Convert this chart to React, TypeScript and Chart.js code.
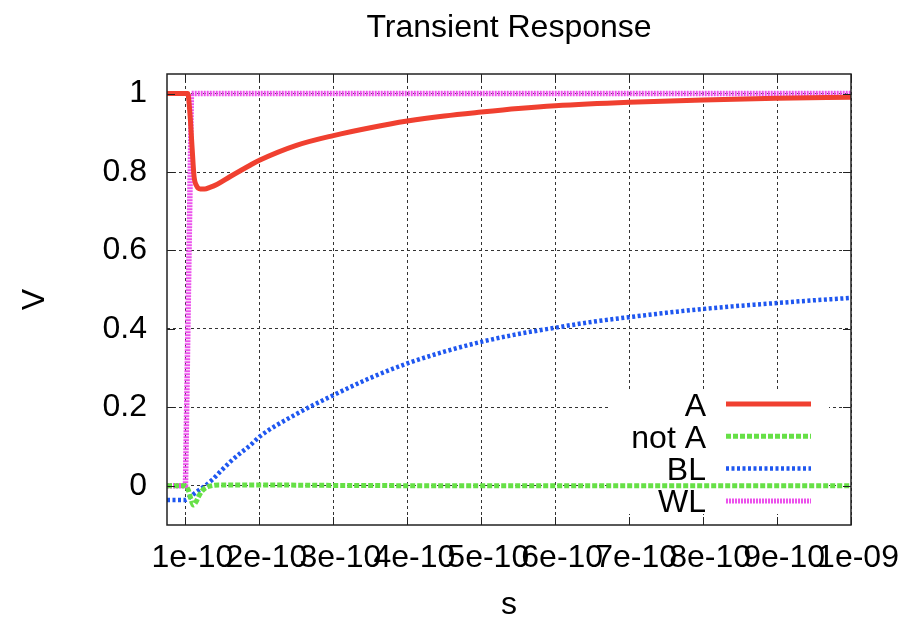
import { useEffect, useRef } from 'react';
import { Chart, registerables } from 'chart.js';

Chart.register(...registerables);

// ---- text ----
const TITLE = 'Transient Response';
const X_TITLE = 's';
const Y_TITLE = 'V';
const FONT = "'Liberation Sans', Arial, Helvetica, sans-serif";

// ---- axes ----
const X_MIN = 0.75e-10;
const X_MAX = 1e-9;
const Y_MIN = -0.1;
const Y_MAX = 1.05;
const X_TICKS = [1e-10, 2e-10, 3e-10, 4e-10, 5e-10, 6e-10, 7e-10, 8e-10, 9e-10, 1e-9];
const X_TICK_LABELS = ['1e-10', '2e-10', '3e-10', '4e-10', '5e-10', '6e-10', '7e-10', '8e-10', '9e-10', '1e-09'];
const Y_TICKS = [0, 0.2, 0.4, 0.6, 0.8, 1];
const Y_TICK_LABELS = ['0', '0.2', '0.4', '0.6', '0.8', '1'];

// ---- series (time in seconds, value in volts) ----
const SERIES_NAMES = ['A', 'not A', 'BL', 'WL'];

const A_T = [0.75e-10, 1.0e-10, 1.03e-10, 1.06e-10, 1.09e-10, 1.115e-10, 1.15e-10, 1.2e-10, 1.26e-10, 1.33e-10,
  1.43e-10, 1.6e-10, 1.88e-10, 2.0e-10, 2.5e-10, 3.0e-10, 3.5e-10, 4.0e-10, 4.5e-10, 5.0e-10, 5.5e-10, 6.0e-10,
  7.0e-10, 8.0e-10, 9.0e-10, 10.0e-10];
const A_V = [1, 1, 1, 0.95, 0.86, 0.79, 0.765, 0.757, 0.757, 0.761,
  0.769, 0.788, 0.818, 0.83, 0.868, 0.893, 0.913, 0.93, 0.943, 0.953, 0.962, 0.969,
  0.978, 0.984, 0.988, 0.991];

const NOTA_T = [0.75e-10, 1.0e-10, 1.04e-10, 1.075e-10, 1.105e-10, 1.14e-10, 1.175e-10, 1.22e-10, 1.265e-10,
  1.33e-10, 1.45e-10, 2.0e-10, 3.0e-10, 5.0e-10, 10.0e-10];
const NOTA_V = [0, 0, -0.012, -0.035, -0.049, -0.042, -0.028, -0.014, -0.006,
  -0.001, 0.002, 0.002, 0.001, 0, 0];

const BL_T = [0.75e-10, 1.0e-10, 1.07e-10, 1.16e-10, 1.25e-10, 1.36e-10, 1.47e-10, 1.61e-10, 1.74e-10, 1.88e-10,
  2.0e-10, 2.5e-10, 3.0e-10, 3.5e-10, 4.0e-10, 4.5e-10, 5.0e-10, 5.5e-10, 6.0e-10, 6.5e-10, 7.0e-10, 7.5e-10,
  8.0e-10, 8.5e-10, 9.0e-10, 9.5e-10, 10.0e-10];
const BL_V = [-0.036, -0.036, -0.027, -0.014, -0.002, 0.015, 0.036, 0.062, 0.083, 0.104,
  0.125, 0.183, 0.231, 0.275, 0.312, 0.342, 0.367, 0.387, 0.403, 0.418, 0.43, 0.441,
  0.451, 0.459, 0.466, 0.473, 0.479];

const WL_T = [0.75e-10, 1.0e-10, 1.08e-10, 10.0e-10];
const WL_V = [0, 0, 1, 1];

const COLORS = ['#f04030', '#66e046', '#1f57f0', '#ec52ec'];
const WIDTHS = [5, 5, 4.5, 5.5];
const DASHES: number[][] = [[], [5, 2], [3, 2.5], [2, 1]];

const toPoints = (t: number[], v: number[]) => t.map((x, i) => ({ x, y: v[i] }));

// key in the lower right corner, drawn over the grid but under the curves
const keyPlugin = {
  id: 'keyBox',
  beforeDatasetsDraw(chart: any) {
    const { ctx, chartArea: a } = chart;
    const rowH = 32.3;
    const firstRow = a.bottom - 121;
    ctx.save();
    ctx.fillStyle = '#ffffff';
    ctx.fillRect(a.right - 241, firstRow - 15, 219, 125);
    ctx.font = `32px ${FONT}`;
    ctx.textAlign = 'right';
    ctx.textBaseline = 'alphabetic';
    chart.data.datasets.forEach((ds: any, i: number) => {
      const y = firstRow + i * rowH;
      ctx.fillStyle = '#000';
      ctx.fillText(ds.label, a.right - 145, y + 11.5);
      ctx.beginPath();
      ctx.strokeStyle = ds.borderColor;
      ctx.lineWidth = Math.min(ds.borderWidth, 5);
      ctx.setLineDash(ds.borderDash || []);
      ctx.moveTo(a.right - 125, y);
      ctx.lineTo(a.right - 40, y);
      ctx.stroke();
    });
    ctx.restore();
  },
};

// border frame, inward tick marks, title and axis titles
const framePlugin = {
  id: 'frameAndTitles',
  afterDraw(chart: any) {
    const { ctx, chartArea: a, scales } = chart;
    const tick = 8;
    ctx.save();
    ctx.strokeStyle = '#222';
    ctx.lineWidth = 1;
    ctx.setLineDash([]);
    ctx.beginPath();
    scales.y.ticks.forEach((t: any) => {
      const py = Math.round(scales.y.getPixelForValue(t.value)) + 0.5;
      ctx.moveTo(a.left, py); ctx.lineTo(a.left + tick, py);
      ctx.moveTo(a.right, py); ctx.lineTo(a.right - tick, py);
    });
    scales.x.ticks.forEach((t: any) => {
      const px = Math.round(scales.x.getPixelForValue(t.value)) + 0.5;
      ctx.moveTo(px, a.bottom); ctx.lineTo(px, a.bottom - tick);
      ctx.moveTo(px, a.top); ctx.lineTo(px, a.top + tick);
    });
    ctx.stroke();
    ctx.lineWidth = 1.5;
    ctx.strokeRect(a.left, a.top, a.right - a.left, a.bottom - a.top);

    ctx.fillStyle = '#000';
    ctx.font = `32px ${FONT}`;
    ctx.textAlign = 'center';
    ctx.textBaseline = 'alphabetic';
    const cx = (a.left + a.right) / 2;
    ctx.fillText(TITLE, cx, 37);
    ctx.fillText(X_TITLE, cx, 614);
    ctx.translate(44, (a.top + a.bottom) / 2);
    ctx.rotate(-Math.PI / 2);
    ctx.fillText(Y_TITLE, 0, 0);
    ctx.restore();
  },
};

export default function App() {
  const canvasRef = useRef<HTMLCanvasElement | null>(null);

  useEffect(() => {
    const canvas = canvasRef.current;
    if (!canvas) return;
    const series = [toPoints(A_T, A_V), toPoints(NOTA_T, NOTA_V), toPoints(BL_T, BL_V), toPoints(WL_T, WL_V)];
    const chart = new Chart(canvas, {
      type: 'line',
      data: {
        datasets: series.map((data, i) => ({
          label: SERIES_NAMES[i],
          data,
          borderColor: COLORS[i],
          backgroundColor: COLORS[i],
          borderWidth: WIDTHS[i],
          borderDash: DASHES[i],
          pointRadius: 0,
          fill: false,
          cubicInterpolationMode: i === 3 ? 'default' : 'monotone',
          tension: i === 3 ? 0 : 0.4,
        })),
      },
      options: {
        animation: false,
        responsive: false,
        devicePixelRatio: 1,
        parsing: false,
        layout: { padding: { top: 74, right: 58, left: 0, bottom: 0 } },
        plugins: { legend: { display: false }, title: { display: false }, tooltip: { enabled: false } },
        scales: {
          x: {
            type: 'linear',
            min: X_MIN,
            max: X_MAX,
            afterBuildTicks: (s: any) => { s.ticks = X_TICKS.map((value) => ({ value })); },
            afterFit: (s: any) => { s.height = 94; },
            grid: { color: '#333', lineWidth: 1, drawTicks: false },
            border: { display: false, dash: [3, 3] },
            ticks: {
              autoSkip: false,
              maxRotation: 0,
              minRotation: 0,
              padding: 14,
              labelOffset: 7,
              color: '#000',
              font: { family: FONT, size: 32 },
              callback: (_v: any, i: number) => X_TICK_LABELS[i],
            },
          },
          y: {
            type: 'linear',
            min: Y_MIN,
            max: Y_MAX,
            afterBuildTicks: (s: any) => { s.ticks = Y_TICKS.map((value) => ({ value })); },
            afterFit: (s: any) => { s.width = 167; },
            grid: { color: '#333', lineWidth: 1, drawTicks: false },
            border: { display: false, dash: [3, 3] },
            ticks: {
              padding: 20,
              color: '#000',
              font: { family: FONT, size: 32 },
              callback: (_v: any, i: number) => Y_TICK_LABELS[i],
            },
          },
        },
      },
      plugins: [keyPlugin, framePlugin],
    } as any);
    return () => chart.destroy();
  }, []);

  return (
    <div style={{ position: 'fixed', left: 0, top: 0, width: 909, height: 619, background: '#fff' }}>
      <canvas ref={canvasRef} width={909} height={619} style={{ width: 909, height: 619 }} />
    </div>
  );
}
